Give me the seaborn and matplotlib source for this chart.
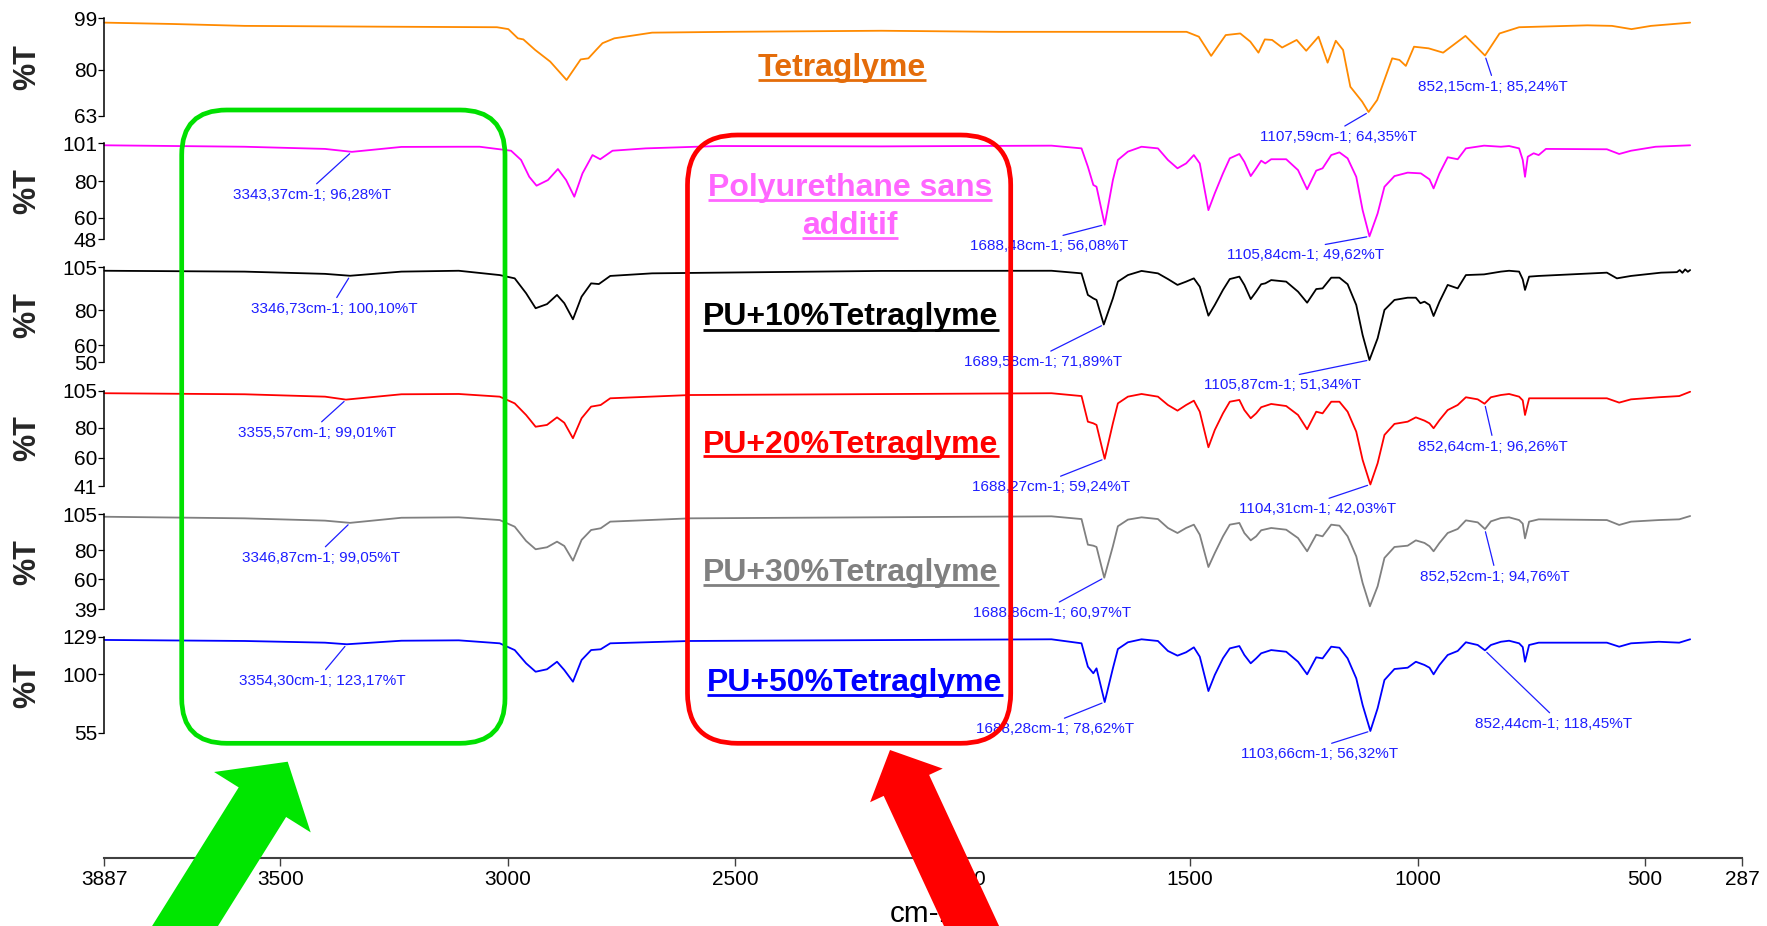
import matplotlib
matplotlib.use("Agg")
import matplotlib.pyplot as plt
import seaborn as sns
import pandas as pd
from matplotlib.patches import FancyBboxPatch, Polygon
from matplotlib.lines import Line2D
from matplotlib import font_manager

# ---------------- DATA ----------------
series_names = ["Tetraglyme", "Polyurethane sans\nadditif", "PU+10%Tetraglyme",
                "PU+20%Tetraglyme", "PU+30%Tetraglyme", "PU+50%Tetraglyme"]

tetra_wn = [3887, 3738, 3579, 3276, 3024, 2999, 2978, 2966, 2940, 2907, 2871, 2840, 2823, 2806, 2792,
            2766, 2683, 2515, 2179, 1921, 1701, 1508, 1481, 1454, 1422, 1390, 1368, 1350, 1336, 1320,
            1298, 1266, 1245, 1218, 1198, 1180, 1164, 1148, 1122, 1108, 1089, 1056, 1040, 1026, 1008,
            976, 944, 895, 852, 820, 777, 627, 573, 530, 487, 401]
tetra_t = [97.4, 96.9, 96.2, 95.9, 95.7, 95.0, 91.6, 91.2, 87.3, 83.0, 76.2, 83.8, 84.2, 87.3, 89.8,
           91.6, 93.7, 94.0, 94.4, 94.0, 94.0, 94.0, 92.2, 85.1, 92.8, 93.4, 90.4, 86.3, 91.2, 91.0,
           88.2, 91.0, 87.0, 92.2, 82.6, 90.7, 87.3, 73.7, 68.2, 64.35, 68.8, 84.2, 83.6, 81.4, 88.5,
           87.9, 86.3, 92.5, 85.24, 93.4, 95.7, 96.4, 96.2, 95.0, 96.2, 97.4]

pu0_wn = [3887, 3579, 3402, 3343, 3234, 3108, 3062, 2993, 2971, 2953,
          2937, 2912, 2890, 2872, 2854, 2836, 2814, 2797, 2770, 2697,
          2535, 2179, 1805, 1739, 1725, 1713, 1706, 1688, 1670, 1659,
          1637, 1607, 1571, 1549, 1528, 1509, 1492, 1479, 1460, 1446,
          1428, 1413, 1392, 1381, 1367, 1355, 1344, 1335, 1322, 1289,
          1263, 1243, 1223, 1209, 1190, 1172, 1154, 1135, 1121, 1106,
          1088, 1073, 1051, 1022, 993, 974, 965, 952, 934, 912,
          894, 854, 817, 799, 777, 769, 764, 758, 745, 734,
          718, 584, 557, 531, 477, 401]
pu0_t = [99.9, 99.1, 97.9, 96.28, 99.0, 99.1, 99.1, 96.9, 91.8, 82.5,
         77.6, 80.7, 86.8, 80.7, 71.5, 84.4, 94.5, 92.2, 96.9, 98.2,
         99.5, 99.3, 99.7, 98.2, 88.1, 78.0, 77.0, 56.08, 80.7, 91.8,
         96.4, 99.1, 98.2, 91.8, 87.2, 89.9, 94.5, 89.9, 64.1, 73.4,
         84.4, 92.7, 95.1, 90.8, 82.9, 87.2, 91.4, 89.9, 92.2, 92.2,
         86.2, 75.6, 85.9, 87.2, 94.5, 96.0, 92.7, 82.5, 64.1, 49.62,
         62.3, 77.0, 82.9, 84.8, 84.4, 81.1, 76.1, 84.4, 93.3, 92.2,
         98.2, 99.7, 99.1, 99.5, 98.2, 91.8, 82.5, 93.6, 95.5, 94.5,
         97.9, 97.7, 95.1, 96.9, 99.1, 99.9]

pu10_wn = [3887, 3579, 3402, 3347, 3234, 3108, 3018, 2985, 2960, 2939,
           2914, 2892, 2876, 2857, 2838, 2817, 2800, 2775, 2683, 2179,
           1805, 1739, 1725, 1713, 1706, 1690, 1670, 1659, 1637, 1607,
           1571, 1549, 1528, 1509, 1492, 1479, 1460, 1446, 1428, 1413,
           1392, 1381, 1367, 1355, 1344, 1335, 1322, 1289, 1263, 1243,
           1223, 1209, 1190, 1172, 1154, 1135, 1121, 1106, 1088, 1073,
           1051, 1022, 1004, 994, 985, 974, 965, 952, 934, 912,
           894, 854, 817, 799, 777, 769, 764, 755, 734, 584,
           562, 531, 465, 430, 424, 418, 412, 406, 401]
pu10_t = [103.0, 102.5, 101.2, 100.10, 102.5, 103.0, 100.5, 98.6, 90.0, 81.3,
          83.7, 89.0, 84.2, 74.9, 88.0, 95.7, 95.3, 100.0, 101.5, 102.9,
          103.0, 101.5, 89.0, 87.0, 86.1, 71.89, 87.0, 96.7, 100.5, 102.9,
          101.5, 98.2, 94.8, 96.7, 98.6, 93.8, 77.0, 83.2, 91.9, 98.2,
          99.6, 94.8, 86.6, 90.9, 95.2, 95.7, 97.6, 96.7, 90.9, 84.5,
          92.4, 92.8, 99.0, 99.0, 95.2, 83.2, 65.8, 51.34, 63.9, 80.3,
          86.1, 87.4, 87.4, 84.2, 85.1, 83.2, 76.8, 85.1, 94.8, 92.8,
          100.5, 100.9, 102.5, 103.0, 102.5, 98.0, 91.9, 99.6, 100.0, 101.9,
          98.6, 100.0, 101.9, 102.2, 103.4, 101.8, 103.8, 102.4, 103.4]

pu20_wn = [3887, 3579, 3402, 3356, 3234, 3108, 3018, 2985, 2960, 2939,
           2914, 2892, 2876, 2857, 2838, 2817, 2796, 2775, 2599, 1805,
           1739, 1725, 1713, 1706, 1688, 1670, 1659, 1637, 1607, 1571,
           1549, 1528, 1509, 1492, 1479, 1460, 1446, 1428, 1413, 1392,
           1381, 1367, 1355, 1344, 1322, 1289, 1263, 1243, 1223, 1209,
           1190, 1172, 1154, 1135, 1121, 1104, 1088, 1073, 1051, 1022,
           1004, 985, 974, 965, 952, 934, 912, 894, 868, 853,
           839, 817, 799, 777, 769, 764, 755, 734, 584, 557,
           531, 470, 425, 401]
pu20_t = [103.3, 102.6, 101.0, 99.01, 102.6, 102.8, 101.0, 96.5, 88.7, 80.8,
          82.0, 87.1, 83.5, 73.1, 86.5, 94.3, 95.4, 99.9, 102.1, 103.3,
          101.4, 84.2, 83.1, 82.0, 59.24, 83.1, 96.5, 101.0, 102.8, 101.0,
          95.4, 91.6, 95.4, 98.3, 90.9, 67.0, 78.6, 89.8, 97.6, 98.8,
          92.0, 86.5, 89.8, 93.9, 96.1, 94.7, 88.7, 79.1, 90.9, 89.8,
          97.6, 97.6, 90.9, 77.5, 58.5, 42.03, 56.3, 75.3, 82.7, 84.2,
          87.1, 84.9, 83.1, 79.8, 85.3, 92.0, 95.4, 100.6, 99.2, 96.26,
          100.6, 102.1, 102.8, 101.0, 98.5, 88.7, 99.9, 99.9, 99.9, 97.0,
          99.2, 100.6, 101.4, 104.3]

pu30_wn = [3887, 3579, 3402, 3347, 3234, 3108, 3018, 2985, 2960, 2939,
           2914, 2892, 2876, 2857, 2838, 2817, 2796, 2775, 2599, 1805,
           1739, 1725, 1713, 1706, 1689, 1670, 1659, 1637, 1607, 1571,
           1549, 1528, 1509, 1492, 1479, 1460, 1446, 1428, 1413, 1392,
           1381, 1367, 1355, 1344, 1322, 1289, 1263, 1243, 1223, 1209,
           1190, 1172, 1154, 1135, 1121, 1105, 1088, 1073, 1051, 1022,
           1004, 985, 974, 965, 952, 934, 912, 894, 868, 852,
           839, 817, 799, 777, 769, 764, 755, 734, 584, 557,
           531, 470, 425, 401]
pu30_t = [103.3, 102.2, 100.6, 99.05, 102.6, 102.9, 101.0, 96.4, 86.5, 80.7,
          82.1, 86.0, 83.0, 72.8, 87.2, 94.1, 95.3, 99.9, 102.2, 103.6,
          101.7, 83.9, 83.2, 82.3, 60.97, 82.8, 96.7, 101.3, 102.9, 101.7,
          95.5, 92.0, 95.5, 97.8, 90.8, 68.4, 78.1, 89.7, 97.8, 99.0,
          92.0, 86.9, 89.7, 93.9, 95.5, 94.3, 88.5, 79.3, 90.8, 89.7,
          97.8, 97.1, 89.7, 75.8, 57.3, 41.1, 55.0, 74.7, 82.3, 83.2,
          86.9, 85.1, 82.8, 79.3, 85.1, 92.0, 94.8, 100.8, 99.4, 94.76,
          100.1, 102.4, 102.9, 101.0, 98.5, 88.3, 99.9, 101.5, 101.0, 97.6,
          99.9, 101.0, 101.5, 103.8]

pu50_wn = [3887, 3579, 3402, 3354, 3234, 3108, 3018, 2985, 2960, 2939,
           2914, 2892, 2876, 2857, 2838, 2817, 2796, 2775, 2599, 1805,
           1739, 1725, 1713, 1706, 1688, 1670, 1659, 1637, 1607, 1571,
           1549, 1528, 1509, 1492, 1479, 1460, 1446, 1428, 1413, 1392,
           1381, 1367, 1355, 1344, 1322, 1289, 1263, 1243, 1223, 1209,
           1190, 1172, 1154, 1135, 1121, 1104, 1088, 1073, 1051, 1022,
           1004, 985, 974, 965, 952, 934, 912, 894, 868, 852,
           839, 817, 799, 777, 769, 764, 755, 734, 584, 557,
           531, 470, 425, 401]
pu50_t = [126.5, 125.7, 124.4, 123.17, 125.9, 126.2, 123.9, 118.7, 108.5, 102.0,
          103.9, 109.7, 103.3, 94.3, 111.0, 118.7, 119.3, 123.9, 125.7, 127.0,
          123.9, 105.9, 100.8, 104.6, 78.62, 104.6, 119.5, 124.7, 127.0, 125.7,
          118.0, 114.4, 117.0, 120.8, 113.6, 87.1, 99.5, 112.3, 120.0, 121.8,
          114.9, 108.5, 112.3, 116.2, 118.7, 117.4, 109.7, 100.0, 113.1, 112.3,
          121.3, 120.5, 112.3, 96.9, 76.3, 56.32, 73.8, 95.6, 104.1, 105.1,
          109.7, 107.2, 105.1, 100.0, 107.2, 114.9, 118.0, 124.7, 122.6, 118.45,
          122.6, 125.1, 125.9, 123.9, 121.0, 109.7, 122.6, 124.4, 124.4, 121.3,
          123.9, 125.1, 124.4, 127.0]

y_limits = [(63, 99), (48, 101), (50, 105), (41, 105), (39, 105), (55, 129)]
y_ticks = [[63, 80, 99], [48, 60, 80, 101], [50, 60, 80, 105],
           [41, 60, 80, 105], [39, 60, 80, 105], [55, 100, 129]]
x_ticks = [3887, 3500, 3000, 2500, 2000, 1500, 1000, 500, 287]
x_ticklabels = ["3887", "3500", "3000", "2500", "2000", "1500", "1000", "500", "287"]

# peak annotations: (panel, wavenumber, %T, text)
annot_panel = [0, 0, 1, 1, 1, 2, 2, 2, 3, 3, 3, 3, 4, 4, 4, 5, 5, 5, 5]
annot_wn = [852.15, 1107.59, 3343.37, 1688.48, 1105.84, 3346.73, 1689.58, 1105.87,
            3355.57, 1688.27, 1104.31, 852.64, 3346.87, 1688.86, 852.52,
            3354.30, 1688.28, 1103.66, 852.44]
annot_t = [85.24, 64.35, 96.28, 56.08, 49.62, 100.10, 71.89, 51.34,
           99.01, 59.24, 42.03, 96.26, 99.05, 60.97, 94.76,
           123.17, 78.62, 56.32, 118.45]
annot_text = ["852,15cm-1; 85,24%T", "1107,59cm-1; 64,35%T", "3343,37cm-1; 96,28%T",
              "1688,48cm-1; 56,08%T", "1105,84cm-1; 49,62%T", "3346,73cm-1; 100,10%T",
              "1689,58cm-1; 71,89%T", "1105,87cm-1; 51,34%T", "3355,57cm-1; 99,01%T",
              "1688,27cm-1; 59,24%T", "1104,31cm-1; 42,03%T", "852,64cm-1; 96,26%T",
              "3346,87cm-1; 99,05%T", "1688,86cm-1; 60,97%T", "852,52cm-1; 94,76%T",
              "3354,30cm-1; 123,17%T", "1688,28cm-1; 78,62%T", "1103,66cm-1; 56,32%T",
              "852,44cm-1; 118,45%T"]

# ---------------- LAYOUT / STYLE ----------------
spectra = [(tetra_wn, tetra_t), (pu0_wn, pu0_t), (pu10_wn, pu10_t),
           (pu20_wn, pu20_t), (pu30_wn, pu30_t), (pu50_wn, pu50_t)]
line_colors = ["#FF8A00", "#FF00FF", "#000000", "#FF0000", "#808080", "#0000FF"]
label_colors = ["#E46C0A", "#FF66FF", "#000000", "#FF0000", "#808080", "#0000FF"]

W, H = 1767, 926
X0, X1 = 104.4, 1742.0
panel_px = [(18.3, 115.7), (143.3, 239.3), (267.3, 362.3),
            (390.7, 486.0), (514.3, 609.3), (636.7, 732.7)]
annot_pos = [(1493, 87), (1338, 137), (312, 195), (1049, 246), (1306, 255),
             (334, 309), (1043, 362), (1282, 385), (317, 433), (1051, 487),
             (1318, 509), (1493, 447), (321, 558), (1052, 613), (1495, 577),
             (322, 681), (1055, 729), (1320, 754), (1554, 724)]

sns.set_theme(style="white")
available = {f.name for f in font_manager.fontManager.ttflist}
if "Liberation Sans Narrow" in available:
    narrow = ["Liberation Sans Narrow", "DejaVu Sans"]
    nscale = 1.0
else:
    narrow = ["Liberation Sans", "DejaVu Sans"]
    nscale = 0.82
bold_family = ["Liberation Sans", "DejaVu Sans"]
plt.rcParams["font.family"] = narrow

fig = plt.figure(figsize=(W / 100, H / 100), dpi=100)
fig.patch.set_facecolor("white")


def inch(x, y):
    return (x / 100.0, (H - y) / 100.0)


axes = []
for i, (top, bot) in enumerate(panel_px):
    ax = fig.add_axes([X0 / W, 1 - bot / H, (X1 - X0) / W, (bot - top) / H])
    ax.patch.set_alpha(0)
    df = pd.DataFrame({"wn": spectra[i][0], "T": spectra[i][1]})
    sns.lineplot(data=df, x="wn", y="T", ax=ax, color=line_colors[i], lw=1.3,
                 sort=False, estimator=None)
    for ln in ax.lines:
        ln.set_clip_on(False)
        ln.set_solid_joinstyle("round")
    ax.set_xlim(3887, 287)
    ax.set_ylim(*y_limits[i])
    ax.set_xlabel("")
    ax.set_ylabel("")
    for s in ["top", "right", "bottom"]:
        ax.spines[s].set_visible(False)
    ax.spines["left"].set_color("black")
    ax.spines["left"].set_linewidth(1.1)
    ax.set_xticks([])
    ax.set_yticks(y_ticks[i])
    ax.set_yticklabels([str(v) for v in y_ticks[i]])
    ax.tick_params(axis="y", left=True, direction="out", length=4.3, width=0.9,
                   pad=1, labelsize=15 if nscale < 1 else 17, colors="black")
    fig.text(27.7 / W, 1 - (top + bot) / 2 / H, "%T", rotation=90, ha="center",
             va="center", fontsize=22, fontweight="bold", family=bold_family)
    axes.append(ax)

# annotations
for k in range(len(annot_text)):
    ax = axes[annot_panel[k]]
    cx, cy = annot_pos[k]
    ax.annotate(annot_text[k], xy=(annot_wn[k], annot_t[k]), xycoords="data",
                xytext=(cx, H - cy), textcoords="figure pixels",
                ha="center", va="center", fontsize=13.4 * nscale, color="#1E1EFF",
                annotation_clip=False,
                arrowprops=dict(arrowstyle="-", color="#1E1EFF", lw=0.9,
                                shrinkA=1, shrinkB=2, relpos=(0.5, 1.0)))

# bottom x axis
axx = fig.add_axes([X0 / W, 1 - 857.5 / H, (X1 - X0) / W, 0.0005])
axx.patch.set_alpha(0)
axx.set_xlim(3887, 287)
axx.set_yticks([])
for s in ["top", "left", "right"]:
    axx.spines[s].set_visible(False)
axx.spines["bottom"].set_color("#404040")
axx.spines["bottom"].set_linewidth(1.5)
axx.set_xticks(x_ticks)
axx.set_xticklabels(x_ticklabels)
axx.tick_params(axis="x", bottom=True, direction="out", length=6, width=1,
                pad=3, labelsize=15 if nscale < 1 else 17, colors="black")
axx.tick_params(axis="x", color="#404040")
fig.text(923 / W, 1 - 922 / H, "cm-1", ha="center", va="baseline",
         fontsize=26 * nscale, color="black")

# series labels (underlined)
label_layout = [[(842, 76, 80)], [(850, 196, 200), (850, 234, 238)], [(851, 325, 330)],
                [(851, 453, 456)], [(851, 581, 585)], [(855, 691, 695)]]
big_texts = []
for i, name in enumerate(series_names):
    for part, (cx, by, uy) in zip(name.split("\n"), label_layout[i]):
        t = fig.text(cx / W, 1 - by / H, part, ha="center", va="baseline",
                     fontsize=23, fontweight="bold", family=bold_family,
                     color=label_colors[i], zorder=3)
        big_texts.append((t, uy, label_colors[i]))

fig.canvas.draw()
rend = fig.canvas.get_renderer()
for t, uy, col in big_texts:
    bb = t.get_window_extent(rend)
    fig.add_artist(Line2D([bb.x0 / 100, bb.x1 / 100], [(H - uy) / 100] * 2,
                          transform=fig.dpi_scale_trans, color=col, lw=2.0,
                          solid_capstyle="butt", zorder=3))

# highlight boxes
green = "#00E000"
red = "#FF0000"
gbox = FancyBboxPatch(inch(181.7, 743.3), (505 - 181.7) / 100, (743.3 - 110) / 100,
                      boxstyle="round,pad=0,rounding_size=0.45",
                      transform=fig.dpi_scale_trans, fill=False, ec=green, lw=3.4,
                      zorder=4)
rbox = FancyBboxPatch(inch(687.5, 743.3), (1010.7 - 687.5) / 100, (743.3 - 135) / 100,
                      boxstyle="round,pad=0,rounding_size=0.5",
                      transform=fig.dpi_scale_trans, fill=False, ec=red, lw=3.4,
                      zorder=4)
fig.add_artist(gbox)
fig.add_artist(rbox)

# big arrows
garrow = [(287.7, 761.7), (310.7, 832.4), (286.1, 817.0), (169.5, 1003.6),
          (122.1, 974.0), (238.7, 787.4), (214.1, 772.0)]
rarrow = [(890.0, 750.0), (942.7, 768.6), (929.1, 774.9), (1013.1, 956.3),
          (967.7, 977.3), (883.7, 795.9), (870.1, 802.2)]
fig.add_artist(Polygon([inch(x, y) for x, y in garrow], closed=True,
                       transform=fig.dpi_scale_trans, fc="#00E600", ec="none", zorder=5))
fig.add_artist(Polygon([inch(x, y) for x, y in rarrow], closed=True,
                       transform=fig.dpi_scale_trans, fc=red, ec="none", zorder=5))

fig.savefig("out.png", dpi=100, facecolor="white")
